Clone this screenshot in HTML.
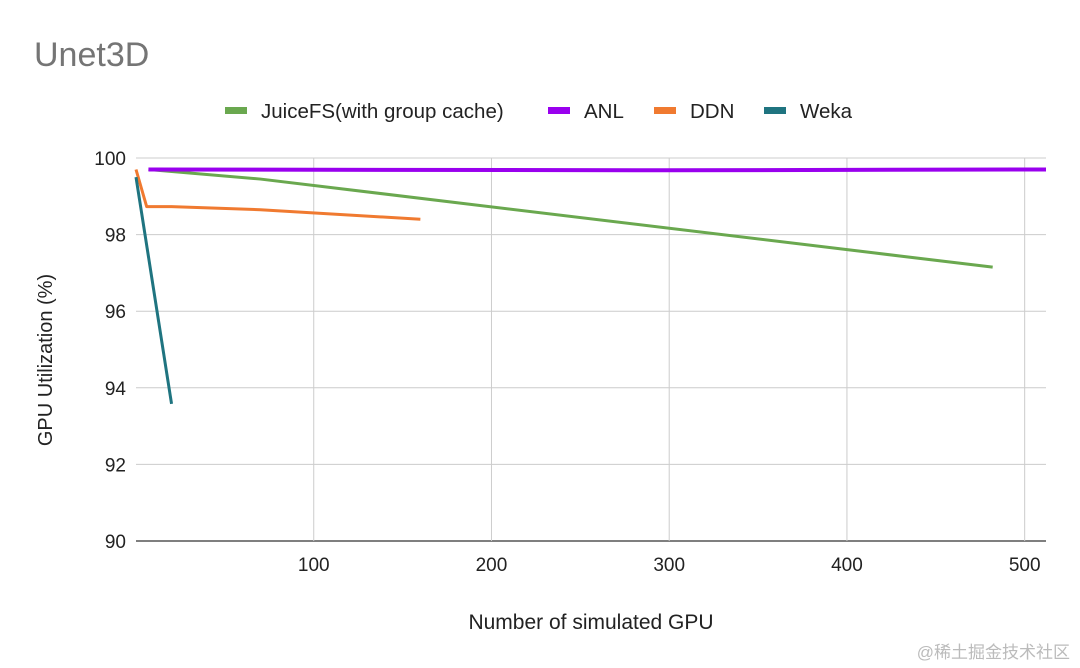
<!DOCTYPE html>
<html><head><meta charset="utf-8"><style>
body{margin:0;background:#fff;font-family:"Liberation Sans",Arial,sans-serif}
svg{display:block}
</style></head><body>
<svg width="1080" height="668">
<rect width="1080" height="668" fill="#fff"/>
<text x="34" y="66" font-size="34" fill="#757575">Unet3D</text>
<g id="legend" font-size="20.5" fill="#222"></g>
<g id="grid"></g>
<g id="series"></g>
<text x="591" y="629" font-size="21" text-anchor="middle" fill="#222">Number of simulated GPU</text>
<text transform="translate(52,360) rotate(-90)" font-size="20" text-anchor="middle" fill="#222">GPU Utilization (%)</text>
<text x="1070" y="658" font-size="17" text-anchor="end" fill="#bbb" font-family="'Liberation Sans','Noto Sans CJK SC',sans-serif">@稀土掘金技术社区</text>
</svg>
<script>
const xTicks=[100,200,300,400,500];
const yTicks=[90,92,94,96,98,100];
const seriesNames=["JuiceFS(with group cache)","ANL","DDN","Weka"];
const seriesColors=["#6aa84f","#9900ee","#f07a30","#1f7480"];
const juiceX=[7,70,482], juiceY=[99.7,99.45,97.15];
const anlX=[7,300,512], anlY=[99.7,99.68,99.7];
const ddnX=[0,6,20,70,160], ddnY=[99.7,98.73,98.73,98.65,98.4];
const wekaX=[0,20], wekaY=[99.5,93.58];
const NS="http://www.w3.org/2000/svg";
const L=136,R=1046,T=158,B=541,X0=0,X1=512,Y0=90,Y1=100;
const sx=v=>L+(v-X0)/(X1-X0)*(R-L);
const sy=v=>B-(v-Y0)/(Y1-Y0)*(B-T);
function mk(tag,attrs,parent){const e=document.createElementNS(NS,tag);for(const k in attrs)e.setAttribute(k,attrs[k]);parent.appendChild(e);return e;}
const grid=document.getElementById('grid');
yTicks.forEach(t=>{
 const ln=mk('line',{x1:L,x2:R,y1:sy(t),y2:sy(t),stroke:t===Y0?'#333':'#ccc','stroke-width':t===Y0?1.3:1},grid);
 
 
 const tx=mk('text',{x:L-10,y:sy(t)+7,'font-size':19,'text-anchor':'end',fill:'#222'},grid);tx.textContent=t;
 
 
});
xTicks.forEach(t=>{
 const ln=mk('line',{x1:sx(t),x2:sx(t),y1:T,y2:B,stroke:'#ccc'},grid);
 
 
 const tx=mk('text',{x:sx(t),y:B+30,'font-size':19,'text-anchor':'middle',fill:'#222'},grid);tx.textContent=t;
 
 
});
const data=[[juiceX,juiceY],[anlX,anlY],[ddnX,ddnY],[wekaX,wekaY]];
const sg=document.getElementById('series');
data.forEach((d,i)=>{
 const pts=d[0].map((x,j)=>sx(x)+','+sy(d[1][j])).join(' ');
 const p=mk('polyline',{points:pts,fill:'none',stroke:seriesColors[i],'stroke-width':i===1?4:3,'stroke-linejoin':'round'},sg);
 
 
});
const lg=document.getElementById('legend');
const lx=[225,548,654,764];
seriesNames.forEach((n,i)=>{
 const g=mk('g',{},lg);
 
 
 mk('rect',{x:lx[i],y:107,width:22,height:7,fill:seriesColors[i]},g);
 const t=mk('text',{x:lx[i]+36,y:118},g);t.textContent=n;
});
</script>
</body></html>
